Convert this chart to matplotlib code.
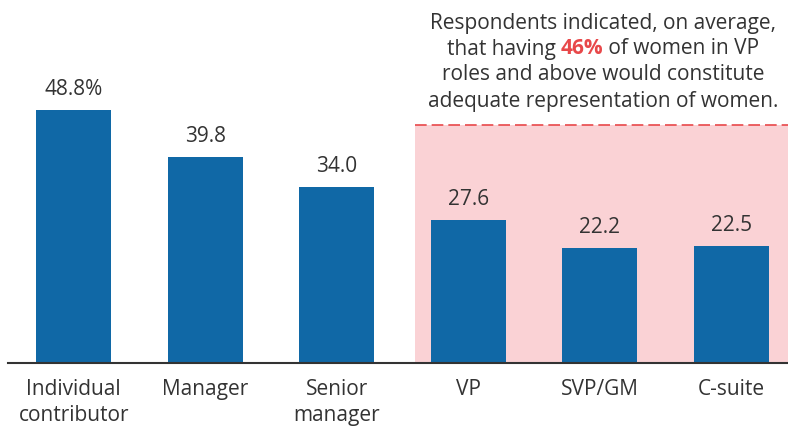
import matplotlib.pyplot as plt

# data
categories = ["Individual\ncontributor", "Manager", "Senior\nmanager", "VP", "SVP/GM", "C-suite"]
values = [48.8, 39.8, 34.0, 27.6, 22.2, 22.5]
value_labels = ["48.8%", "39.8", "34.0", "27.6", "22.2", "22.5"]
adequate = 46

BLUE = "#1068a6"
PINK = "#fad2d5"
RED = "#e8484a"
TXT = "#333333"
FS = 15

plt.rcParams["font.family"] = ["Open Sans", "DejaVu Sans"]

fig = plt.figure(figsize=(7.88, 4.27), dpi=100)
ax = fig.add_axes([8 / 788, 63 / 427, 1 - 8 / 788, 1 - 63 / 427])

x = list(range(len(values)))
ax.set_xlim(-0.5, 5.43)
ax.set_ylim(0, 70.3)

# shaded VP+ region with dashed line at 46%
ax.fill_between([2.594, 5.43], 0, adequate, color=PINK, lw=0, zorder=0)
ax.hlines(adequate, 2.594, 5.43, colors=RED, linestyles=(0, (7, 3)), lw=1.2, zorder=1)

ax.bar(x, values, width=0.57, color=BLUE, zorder=2)
for xi, v, lab in zip(x, values, value_labels):
    ax.annotate(lab, (xi, v), xytext=(0, 8), textcoords="offset points",
                ha="center", va="bottom", fontsize=FS, color=TXT)

for s in ["top", "left", "right"]:
    ax.spines[s].set_visible(False)
ax.spines["bottom"].set_color("#333333")
ax.spines["bottom"].set_linewidth(1.5)
ax.set_yticks([])
ax.set_xticks(x)
ax.set_xticklabels(categories, fontsize=FS, color=TXT, linespacing=1.3)
ax.tick_params(axis="x", length=0, pad=11)

# annotation text
cx = 603 / 788
lines_y = [23, 49, 75, 101]
for i, t in [(0, "Respondents indicated, on average,"),
             (2, "roles and above would constitute"),
             (3, "adequate representation of women.")]:
    fig.text(cx, 1 - lines_y[i] / 427, t, ha="center", va="center", fontsize=FS, color=TXT)

y2 = 1 - lines_y[1] / 427
t1 = fig.text(cx, y2, "that having ", ha="left", va="center", fontsize=FS, color=TXT)
t2 = ax.annotate("46%", xy=(1, 0.5), xycoords=t1, ha="left", va="center",
                 fontsize=FS, color=RED, fontweight="bold", annotation_clip=False)
t3 = ax.annotate(" of women in VP", xy=(1, 0.5), xycoords=t2, ha="left", va="center",
                 fontsize=FS, color=TXT, annotation_clip=False)
fig.canvas.draw()
r = fig.canvas.get_renderer()
x0 = t1.get_window_extent(r).x0
x1 = t3.get_window_extent(r).x1
w = (x1 - x0) / fig.bbox.width
t1.set_x(cx - w / 2)

fig.savefig("out.png", dpi=100)
